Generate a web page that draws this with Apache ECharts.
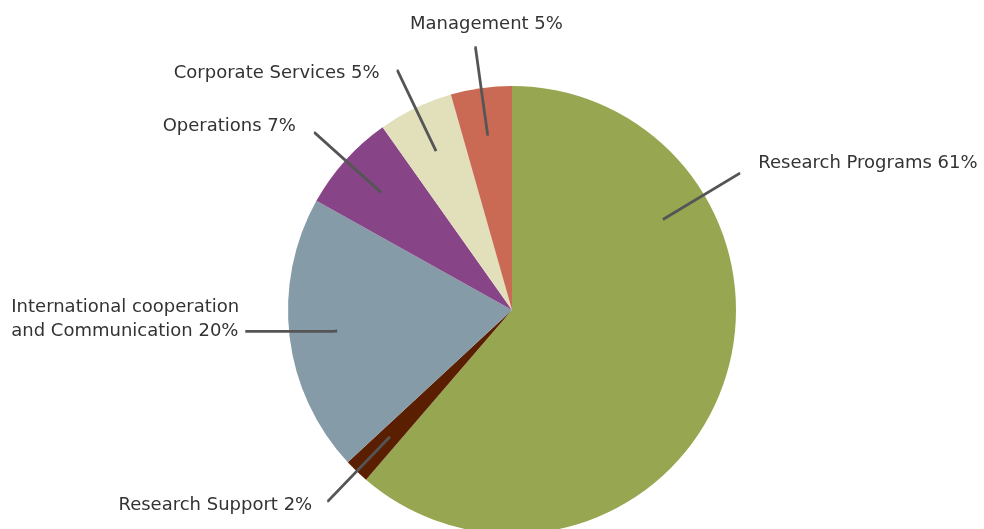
<!DOCTYPE html>
<html><head><meta charset="utf-8">
<script src="https://cdn.jsdelivr.net/npm/echarts@6/dist/echarts.min.js"></script>
<style>html,body{margin:0;padding:0;background:#fff}#c{width:984px;height:529px}</style>
</head><body><div id="c"></div>
<script>
// ---- data ----
const categories = ['Research Programs', 'Research Support', 'International cooperation\nand Communication', 'Operations', 'Corporate Services', 'Management'];
const values = [61.3, 1.8, 20.0, 7.1, 5.4, 4.4];
const labelPercents = ['61%', '2%', '20%', '7%', '5%', '5%'];

// ---- styles ----
const colors = ['#97a651', '#5a1f00', '#859ba8', '#874587', '#e2e0bb', '#cb6a54'];
// label offset relative to label-line end: [dx, dy, align]
const labelOffsets = [[18, -10, 'left'], [-15, 4, 'right'], [-234, -12, 'left'], [-18, -7, 'right'], [-17, 2, 'right'], [12, -23, 'center']];
const lineLen = [89, 89, 4, 89, 89, 89];
const lineLen2 = [1, 1, 88, 1, 1, 1];
const rpLabelShare = 0.535; // where the Research Programs label line sits inside its slice

const chart = echarts.init(document.getElementById('c'));

const mainData = values.map((v, i) => ({ value: v, name: categories[i], itemStyle: { color: colors[i] } }));

const overlayData = [];
const overlayCat = [];
values.forEach((v, i) => {
  const lab = { value: 0, name: categories[i],
    labelLine: { length: lineLen[i], length2: lineLen2[i] } };
  if (i === 0) {
    lab.value = v * rpLabelShare;
    overlayData.push(lab); overlayCat.push(0);
    overlayData.push({ value: v * (1 - rpLabelShare), name: '_rest', label: { show: false }, labelLine: { show: false } });
    overlayCat.push(-1);
  } else {
    lab.value = v;
    overlayData.push(lab); overlayCat.push(i);
  }
});

chart.setOption({
  animation: false,
  series: [
    {
      type: 'pie', center: [512, 310], radius: [0, 224], startAngle: 90, clockwise: true,
      label: { show: false }, labelLine: { show: false }, silent: true,
      itemStyle: { borderWidth: 0 },
      data: mainData, z: 2
    },
    {
      type: 'pie', center: [512, 310], radius: [0, 176], startAngle: 90, clockwise: true,
      silent: true, z: 3, avoidLabelOverlap: false,
      itemStyle: { color: 'rgba(0,0,0,0)', borderWidth: 0 },
      label: {
        show: true, position: 'outside', overflow: 'none',
        fontFamily: 'DejaVu Sans', fontSize: 18, color: '#333333', lineHeight: 24,
        formatter: p => { const c = overlayCat[p.dataIndex]; return c < 0 ? '' : categories[c] + ' ' + labelPercents[c]; }
      },
      labelLine: { show: true, lineStyle: { color: '#555555', width: 2.8 }, minTurnAngle: 0, maxSurfaceAngle: 0 },
      labelLayout: function (params) {
        const c = overlayCat[params.dataIndex];
        if (c < 0 || !params.labelLinePoints) return {};
        const pts = params.labelLinePoints;
        const end = pts[pts.length - 1];
        const o = labelOffsets[c];
        return { x: end[0] + o[0], y: end[1] + o[1], align: o[2], verticalAlign: 'middle', labelLinePoints: pts };
      },
      data: overlayData
    }
  ]
});
</script></body></html>
